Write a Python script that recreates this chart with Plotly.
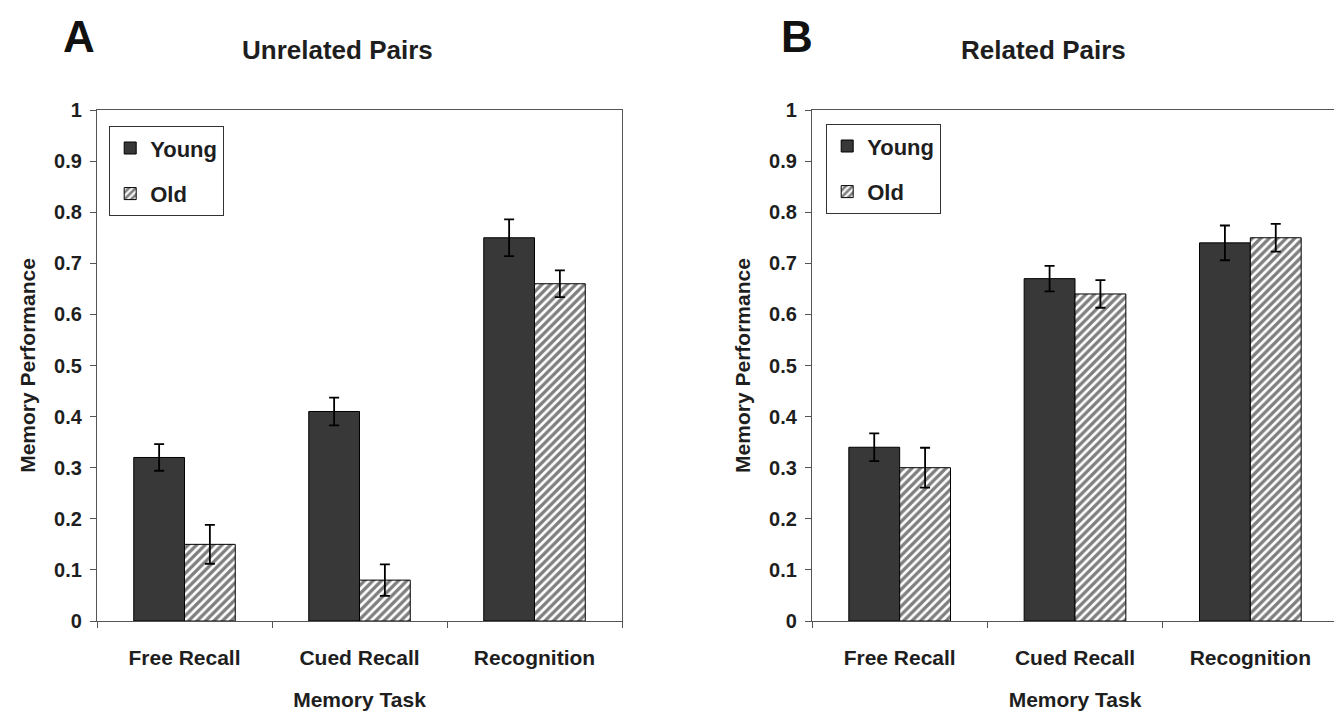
import plotly.graph_objects as go

tasks = ["Free Recall", "Cued Recall", "Recognition"]
groups = ["Young", "Old"]

unrel_young = [0.32, 0.41, 0.75]
unrel_young_err = [0.026, 0.027, 0.036]
unrel_old = [0.15, 0.08, 0.66]
unrel_old_err = [0.038, 0.031, 0.026]

rel_young = [0.34, 0.67, 0.74]
rel_young_err = [0.027, 0.025, 0.034]
rel_old = [0.30, 0.64, 0.75]
rel_old_err = [0.039, 0.027, 0.027]

yticks = [0, 0.1, 0.2, 0.3, 0.4, 0.5, 0.6, 0.7, 0.8, 0.9, 1]
ytick_text = ["0", "0.1", "0.2", "0.3", "0.4", "0.5", "0.6", "0.7", "0.8", "0.9", "1"]

panel_titles = ["Unrelated Pairs", "Related Pairs"]
panel_letters = ["A", "B"]

FONT = "Liberation Sans, Arial, sans-serif"
DARK = "#383838"
TXT = "#1e1e1e"

# page body margin offset (8px) is compensated; figure size is reduced accordingly
OFF = 8
W, H = 1342 - OFF, 717 - OFF


def fx(px):
    return (px - OFF) / W


def fy(py):
    return 1 - (py - OFF) / H


fig = go.Figure()

panels = [
    (unrel_young, unrel_young_err, unrel_old, unrel_old_err, "x", "y", "legend", "A"),
    (rel_young, rel_young_err, rel_old, rel_old_err, "x2", "y2", "legend2", "B"),
]

for yv, ye, ov, oe, xa, ya, lg, tag in panels:
    fig.add_trace(go.Bar(
        x=tasks, y=yv, name=groups[0], xaxis=xa, yaxis=ya, legend=lg,
        legendgroup=tag + groups[0],
        marker=dict(color=DARK, line=dict(color="black", width=1)),
        error_y=dict(type="data", array=ye, color="black", thickness=1.8, width=5),
    ))
    fig.add_trace(go.Bar(
        x=tasks, y=ov, name=groups[1], xaxis=xa, yaxis=ya, legend=lg,
        legendgroup=tag + groups[1],
        marker=dict(color="white", line=dict(color="black", width=1),
                    pattern=dict(shape="/", fgcolor="black", bgcolor="white",
                                 size=6, solidity=0.55)),
        error_y=dict(type="data", array=oe, color="black", thickness=1.8, width=5),
    ))

ydom = [fy(621), fy(110)]
xdoms = [[fx(97), fx(622)], [fx(812), fx(1338)]]

axis_common = dict(showline=True, linecolor="#555", linewidth=1.2, mirror=True,
                   showgrid=False, zeroline=False, automargin=False)

for i, (xd, key) in enumerate(zip(xdoms, ["", "2"])):
    fig.layout["xaxis" + key] = dict(
        domain=xd, anchor="y" + key, type="category",
        ticks="outside", ticklen=6, tickcolor="#555", tickson="boundaries",
        tickfont=dict(family=FONT, size=21, color=TXT, weight="bold"),
        ticklabelstandoff=18,
        title=dict(text="Memory Task", font=dict(family=FONT, size=21, color=TXT, weight="bold"),
                   standoff=24),
        **axis_common,
    )
    fig.layout["yaxis" + key] = dict(
        domain=ydom, anchor="x" + key, range=[0, 1],
        tickvals=yticks, ticktext=ytick_text,
        ticks="outside", ticklen=6, tickcolor="#555",
        tickfont=dict(family=FONT, size=20, color=TXT, weight="bold"),
        ticklabelstandoff=4,
        title=dict(text="Memory Performance", font=dict(family=FONT, size=21, color=TXT, weight="bold"),
                   standoff=12),
        **axis_common,
    )

annotations = []
title_x = [337, 1043]
letter_x = [79, 797]
for i in range(2):
    annotations.append(dict(text=panel_titles[i], x=fx(title_x[i]), y=fy(50),
                            xref="paper", yref="paper", showarrow=False,
                            xanchor="center", yanchor="middle",
                            font=dict(family=FONT, size=26, color=TXT, weight="bold")))
    annotations.append(dict(text=panel_letters[i], x=fx(letter_x[i]), y=fy(36),
                            xref="paper", yref="paper", showarrow=False,
                            xanchor="center", yanchor="middle",
                            font=dict(family=FONT, size=44, color="#111", weight="bold")))

leg_common = dict(xanchor="left", yanchor="top", bordercolor="#333", borderwidth=1.2,
                  bgcolor="white", font=dict(family=FONT, size=22, color=TXT, weight="bold"),
                  tracegroupgap=14, itemwidth=30)

fig.update_layout(
    width=W, height=H,
    margin=dict(l=0, r=0, t=0, b=0),
    paper_bgcolor="white", plot_bgcolor="white",
    barmode="group", bargap=0.42, bargroupgap=0,
    annotations=annotations,
    showlegend=True,
    legend=dict(x=fx(109), y=fy(126), **leg_common),
    legend2=dict(x=fx(826), y=fy(124), **leg_common),
)

fig.write_html("out.html")
